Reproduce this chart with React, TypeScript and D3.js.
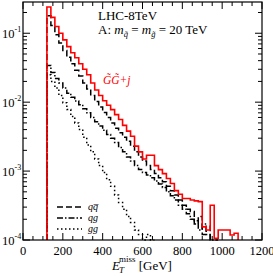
import React, { useEffect, useRef } from 'react';
import * as d3 from 'd3';

// Histogram binning (GeV)
const binStart = 120;
const binWidth = 20;

// GG+j (red), 20 GeV bins from 120 GeV
const totalValues = [
  0.24, 0.17, 0.125, 0.1, 0.08, 0.064, 0.052, 0.044, 0.036, 0.03,
  0.025, 0.019, 0.015, 0.0125, 0.0105, 0.009, 0.0078, 0.0066, 0.0056, 0.0046,
  0.0038, 0.0032, 0.0023, 0.0019, 0.0015, 0.0017, 0.0017, 0.0012, 0.00105, 0.00092,
  0.00078, 0.00066, 0.00052, 0.00046, 0.0004, 0.0004, 0.00038, 0.00037, 0.00036, 0.000155,
  0.00014, 0.00032, 0.000106, 0.00014, 0.00014, 0.00014, 0.000118, 0.000125
];

// q qbar (dashed)
const qqValues = [
  0.18, 0.13, 0.095, 0.072, 0.056, 0.045, 0.036, 0.029, 0.024, 0.019,
  0.0155, 0.0125, 0.0102, 0.0085, 0.0071, 0.006, 0.005, 0.0042, 0.0036, 0.0031,
  0.0027, 0.0023, 0.0019, 0.0016, 0.0014, 0.0012, 0.00105, 0.00092, 0.0008, 0.0007,
  0.0006, 0.00052, 0.00045, 0.00038, 0.00032, 0.00028, 0.00026, 0.00017, 0.00022, 0.00012,
  0.00016, 0.0001
];

// q g (dash-dot)
const qgValues = [
  0.034, 0.027, 0.022, 0.019, 0.016, 0.0135, 0.0118, 0.0104, 0.0092, 0.008,
  0.007, 0.006, 0.0052, 0.0045, 0.0039, 0.0034, 0.003, 0.0026, 0.0022, 0.0019,
  0.0016, 0.0014, 0.0012, 0.00105, 0.00095, 0.00088, 0.0008, 0.00072, 0.00065, 0.00058,
  0.0005, 0.00044, 0.00038, 0.00032, 0.00028, 0.00024, 0.0002, 0.00019, 0.00014, 0.00017,
  0.00012, 0.0001, 0.00009
];

// g g (dotted)
const ggValues = [
  0.025, 0.02, 0.016, 0.0125, 0.0098, 0.0078, 0.0062, 0.005, 0.004, 0.0031,
  0.0024, 0.0019, 0.0015, 0.0012, 0.00095, 0.00075, 0.0006, 0.00045, 0.00035, 0.00028,
  0.00022, 0.00018, 0.00014, 0.00012, 0.0001, 0.00012, 0.00009
];

const xTicks = [0, 200, 400, 600, 800, 1000, 1200];
const yDecades = [-4, -3, -2, -1];

const legendItems = [
  { label: 'qq', dash: '6,3', bar: true },
  { label: 'qg', dash: '6,2,1.5,2' },
  { label: 'gg', dash: '1.5,2.5' }
];

const W = 273;
const H = 276;
const margin = { left: 23, right: 11, top: 2, bottom: 36 };

const App = () => {
  const svgRef = useRef<SVGSVGElement>(null);

  useEffect(() => {
    if (!svgRef.current) return;
    const svg = d3.select(svgRef.current);
    svg.selectAll('*').remove();

    const x = d3.scaleLinear().domain([0, 1200]).range([margin.left, W - margin.right]);
    const y = d3.scaleLog().domain([1e-4, 0.284]).range([H - margin.bottom, margin.top]).clamp(true);
    const x0 = margin.left, x1 = W - margin.right, y0 = H - margin.bottom, y1 = margin.top;

    const font = '"Liberation Serif", "Times New Roman", serif';

    // step path for a histogram
    const stepPath = (vals: number[]) => {
      const p = d3.path();
      p.moveTo(x(binStart), y0);
      vals.forEach((v, i) => {
        const a = binStart + i * binWidth;
        p.lineTo(x(a), y(v));
        p.lineTo(x(a + binWidth), y(v));
      });
      p.lineTo(x(binStart + vals.length * binWidth), y0);
      return p.toString();
    };

    const plot = svg.append('g');

    plot.append('path').attr('d', stepPath(ggValues))
      .attr('fill', 'none').attr('stroke', '#000').attr('stroke-width', 1.5)
      .attr('stroke-dasharray', '1.5,2.5');
    plot.append('path').attr('d', stepPath(qgValues))
      .attr('fill', 'none').attr('stroke', '#000').attr('stroke-width', 1.5)
      .attr('stroke-dasharray', '6,2,1.5,2');
    plot.append('path').attr('d', stepPath(qqValues))
      .attr('fill', 'none').attr('stroke', '#000').attr('stroke-width', 1.5)
      .attr('stroke-dasharray', '6,3');
    plot.append('path').attr('d', stepPath(totalValues))
      .attr('fill', 'none').attr('stroke', '#ff0000').attr('stroke-width', 1.6);

    // frame
    svg.append('rect')
      .attr('x', x0).attr('y', y1).attr('width', x1 - x0).attr('height', y0 - y1)
      .attr('fill', 'none').attr('stroke', '#000').attr('stroke-width', 1.2);

    // x ticks (major 200, minor 50), bottom and top, inward
    d3.range(0, 1201, 50).forEach(v => {
      const major = v % 200 === 0;
      const len = major ? 7 : 4;
      svg.append('line').attr('x1', x(v)).attr('x2', x(v)).attr('y1', y0).attr('y2', y0 - len)
        .attr('stroke', '#000').attr('stroke-width', 1);
      svg.append('line').attr('x1', x(v)).attr('x2', x(v)).attr('y1', y1).attr('y2', y1 + len)
        .attr('stroke', '#000').attr('stroke-width', 1);
    });

    xTicks.forEach(v => {
      svg.append('text')
        .attr('x', x(v)).attr('y', y0 + 15)
        .attr('text-anchor', 'middle')
        .attr('font-family', font).attr('font-size', 12.5)
        .text(v);
    });

    // y ticks (log), left and right
    yDecades.forEach(d => {
      for (let m = 1; m <= 9; m++) {
        const v = m * Math.pow(10, d);
        if (v > 0.284) continue;
        const len = m === 1 ? 7 : 4;
        svg.append('line').attr('x1', x0).attr('x2', x0 + len).attr('y1', y(v)).attr('y2', y(v))
          .attr('stroke', '#000').attr('stroke-width', 1);
        svg.append('line').attr('x1', x1).attr('x2', x1 - len).attr('y1', y(v)).attr('y2', y(v))
          .attr('stroke', '#000').attr('stroke-width', 1);
      }
      const yy = y(Math.pow(10, d));
      svg.append('text')
        .attr('x', 2).attr('y', yy + 4.5)
        .attr('font-family', font).attr('font-size', 12.5)
        .text('10');
      svg.append('text')
        .attr('x', 14.5).attr('y', yy - 1)
        .attr('font-family', font).attr('font-size', 8)
        .text(d);
    });

    // annotations
    svg.append('text').attr('x', 98).attr('y', 20)
      .attr('font-family', font).attr('font-size', 13).text('LHC-8TeV');

    const a = svg.append('text').attr('x', 98).attr('y', 34)
      .attr('font-family', font).attr('font-size', 13);
    a.append('tspan').text('A: ');
    a.append('tspan').attr('font-style', 'italic').text('m');
    a.append('tspan').attr('font-size', 8.5).attr('font-style', 'italic').attr('dy', 3).text('q\u0303');
    a.append('tspan').attr('dy', -3).text(' = ');
    a.append('tspan').attr('font-style', 'italic').text('m');
    a.append('tspan').attr('font-size', 8.5).attr('font-style', 'italic').attr('dy', 3).text('g\u0303');
    a.append('tspan').attr('dy', -3).text(' = 20 TeV');

    svg.append('text').attr('x', 103).attr('y', 84)
      .attr('font-family', font).attr('font-size', 11.5).attr('font-style', 'italic')
      .attr('fill', '#ff0000').text('G\u0303G\u0303+j');

    // legend
    const legendY = [207, 218, 229];
    legendItems.forEach((item, i) => {
      svg.append('line')
        .attr('x1', 57).attr('x2', 82).attr('y1', legendY[i]).attr('y2', legendY[i])
        .attr('stroke', '#000').attr('stroke-width', 1.5).attr('stroke-dasharray', item.dash);
      const lt = svg.append('text').attr('x', 88).attr('y', legendY[i] + 3)
        .attr('font-family', font).attr('font-size', 10).attr('font-style', 'italic');
      if (item.bar) {
        lt.append('tspan').text('q');
        lt.append('tspan').text('q\u0305');
      } else {
        lt.text(item.label);
      }
    });

    // x axis title
    const xt = svg.append('text').attr('x', 112).attr('y', 270)
      .attr('font-family', font).attr('font-size', 13);
    xt.append('tspan').attr('font-style', 'italic').text('E');
    xt.append('tspan').attr('font-size', 9).attr('font-style', 'italic').attr('dx', -1).attr('dy', 3).text('T');
    xt.append('tspan').attr('font-size', 9).attr('dx', -5).attr('dy', -11).text('miss');
    xt.append('tspan').attr('dy', 8).text(' [GeV]');
  }, []);

  return (
    <svg
      ref={svgRef}
      width={W}
      height={H}
      viewBox={`0 0 ${W} ${H}`}
      style={{ position: 'absolute', left: 0, top: 0, background: '#fff' }}
    />
  );
};

export default App;
